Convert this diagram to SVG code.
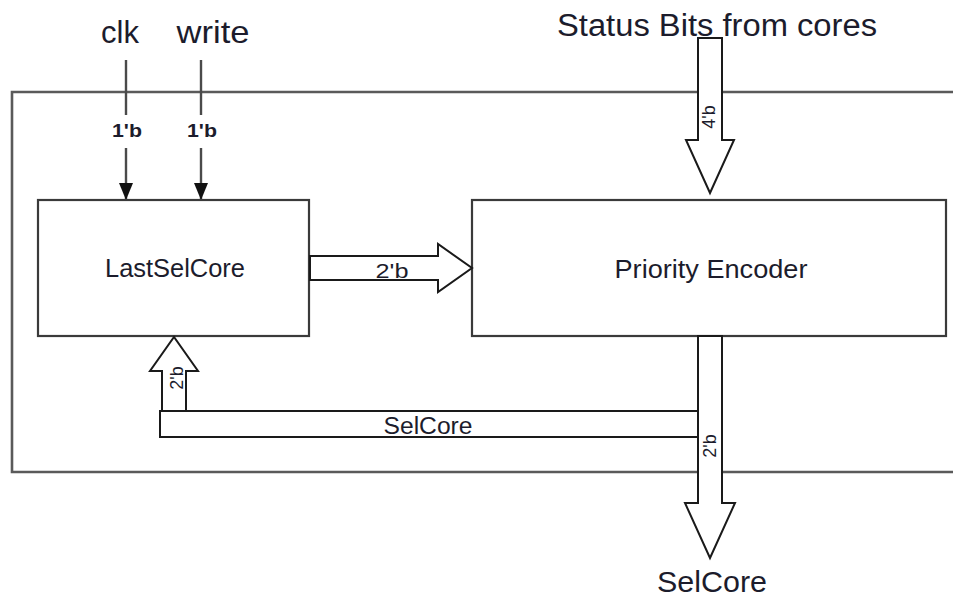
<svg xmlns="http://www.w3.org/2000/svg" width="953" height="597" viewBox="0 0 953 597">
<defs>
<style>
.t{font-family:"Liberation Sans",Arial,sans-serif;fill:#1c1c2c}
.box{fill:#fff;stroke:#3a3a3a;stroke-width:2.2}
.fat{fill:#fff;stroke:#1a1a1a;stroke-width:2;stroke-linejoin:miter}
.wire{stroke:#4a4a4a;stroke-width:2.4;fill:none}
.border{stroke:#5a5a5a;stroke-width:2.6;fill:none}
</style>
<marker id="ah" markerUnits="userSpaceOnUse" markerWidth="18" markerHeight="16" refX="17" refY="8" orient="auto" viewBox="0 0 18 16">
<path d="M0,1 L0,15 L17,8 Z" fill="#111"/>
</marker>
</defs>
<rect width="953" height="597" fill="#fff"/>
<g id="boundary">
<path class="border" d="M960,92 H12 V472 H960"/>
</g>
<g id="clk">
<text class="t" x="120" y="43" font-size="31" text-anchor="middle">clk</text>
</g>
<g id="write">
<text class="t" x="213" y="43" font-size="32" text-anchor="middle" textLength="73" lengthAdjust="spacingAndGlyphs">write</text>
</g>
<g id="status">
<text class="t" x="717" y="36" font-size="31" text-anchor="middle" textLength="320" lengthAdjust="spacingAndGlyphs">Status Bits from cores</text>
</g>
<g id="lastselcore">
<rect class="box" x="38" y="200" width="271" height="136"/>
<text class="t" x="175" y="277" font-size="25" text-anchor="middle" textLength="140" lengthAdjust="spacingAndGlyphs">LastSelCore</text>
</g>
<g id="priority">
<rect class="box" x="472" y="200" width="474" height="136"/>
<text class="t" x="711" y="278" font-size="25" text-anchor="middle" textLength="193" lengthAdjust="spacingAndGlyphs">Priority Encoder</text>
</g>
<g id="connectors">
<line class="wire" x1="126" y1="60" x2="126" y2="115"/>
<line class="wire" x1="126" y1="148" x2="126" y2="200" marker-end="url(#ah)"/>
<text class="t" x="127" y="137" font-size="19" font-weight="bold" text-anchor="middle" textLength="30" lengthAdjust="spacingAndGlyphs">1'b</text>
<line class="wire" x1="201" y1="60" x2="201" y2="115"/>
<line class="wire" x1="201" y1="148" x2="201" y2="200" marker-end="url(#ah)"/>
<text class="t" x="202" y="137" font-size="19" font-weight="bold" text-anchor="middle" textLength="30" lengthAdjust="spacingAndGlyphs">1'b</text>
<polygon class="fat" points="698,38 722,38 722,140 734,140 710,193 686,140 698,140"/>
<text class="t" font-size="18" text-anchor="middle" transform="translate(715,117) rotate(-90)">4'b</text>
<polygon class="fat" points="310,256 438,256 438,244 472,268 438,292 438,280 310,280"/>
<text class="t" x="392" y="278" font-size="21" text-anchor="middle" textLength="33" lengthAdjust="spacingAndGlyphs">2'b</text>
<polygon class="fat" points="698,336 722,336 722,503 735,503 710,558 685,503 698,503"/>
<text class="t" font-size="18" text-anchor="middle" transform="translate(716,446) rotate(-90)">2'b</text>
<rect class="fat" x="160" y="411" width="538" height="26"/>
<text class="t" x="428" y="434" font-size="23" text-anchor="middle" textLength="89" lengthAdjust="spacingAndGlyphs">SelCore</text>
<polygon class="fat" points="162,411 162,371 150,371 174,337 198,371 186,371 186,411"/>
<text class="t" font-size="18" text-anchor="middle" transform="translate(183,378) rotate(-90)">2'b</text>
</g>
<g id="selcore-out">
<text class="t" x="712" y="592" font-size="29" text-anchor="middle" textLength="110" lengthAdjust="spacingAndGlyphs">SelCore</text>
</g>
</svg>
